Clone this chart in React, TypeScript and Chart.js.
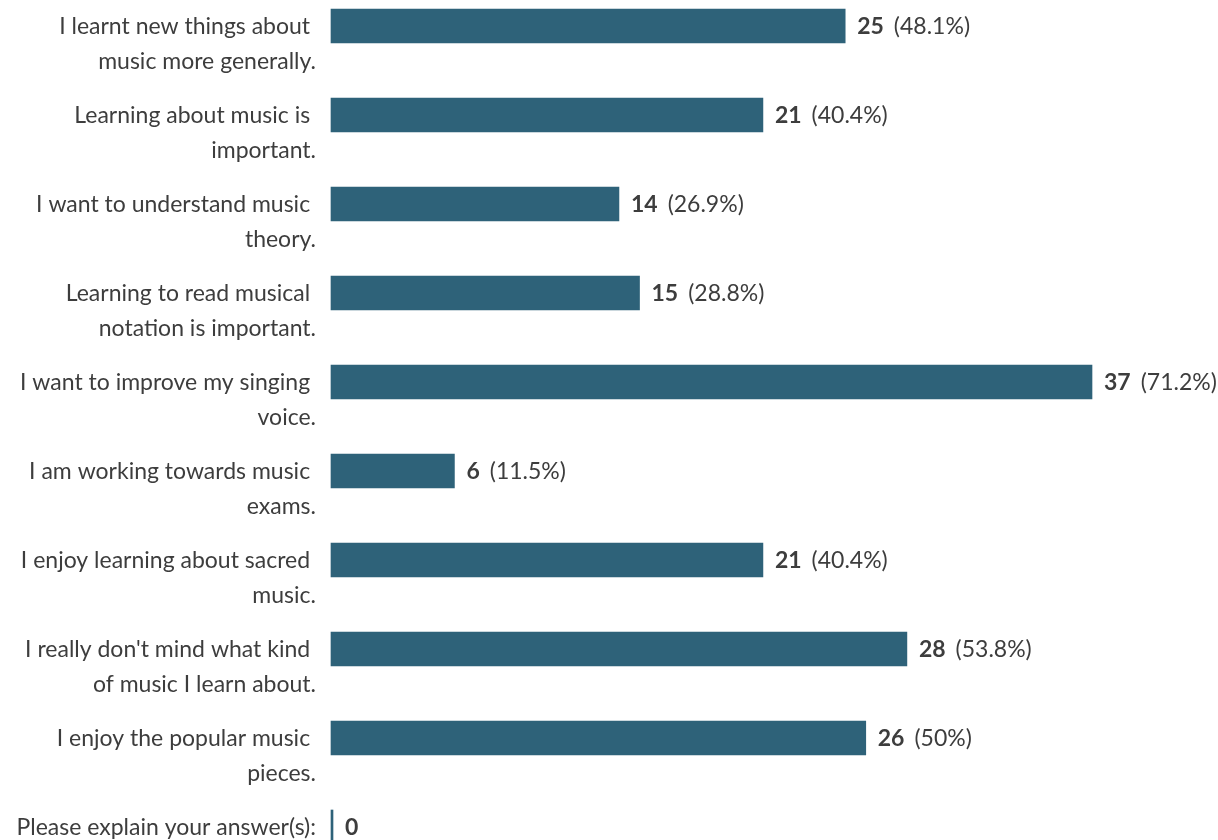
import React, { useEffect, useRef } from "react";
import { Chart, registerables } from "chart.js";

Chart.register(...registerables);

const categories: string[][] = [
  ["I learnt new things about ", "music more generally."],
  ["Learning about music is ", "important."],
  ["I want to understand music ", "theory."],
  ["Learning to read musical ", "notation is important."],
  ["I want to improve my singing ", "voice."],
  ["I am working towards music ", "exams."],
  ["I enjoy learning about sacred ", "music."],
  ["I really don't mind what kind ", "of music I learn about."],
  ["I enjoy the popular music ", "pieces."],
  ["Please explain your answer(s):"],
];
const counts: number[] = [25, 21, 14, 15, 37, 6, 21, 28, 26, 0];
const percents: (string | null)[] = ["48.1%", "40.4%", "26.9%", "28.8%", "71.2%", "11.5%", "40.4%", "53.8%", "50%", null];

const BAR_COLOR = "#2e6279";
const TEXT_COLOR = "#3d3d3d";
const FONT = "Lato";
const SIZE = 23;

const labelPlugin = {
  id: "customLabels",
  afterDatasetsDraw(chart: any) {
    const ctx = chart.ctx;
    const yScale = chart.scales.y;
    const meta = chart.getDatasetMeta(0);
    ctx.save();
    ctx.textBaseline = "middle";
    ctx.fillStyle = TEXT_COLOR;
    categories.forEach((lines, i) => {
      const y = yScale.getPixelForValue(i) + 1;
      ctx.font = `${SIZE}px ${FONT}`;
      ctx.textAlign = "right";
      lines.forEach((line, j) => {
        ctx.fillText(line, 316, y + j * 35);
      });
      const bar = meta.data[i];
      const x0 = bar.x + 12;
      ctx.textAlign = "left";
      ctx.font = `bold ${SIZE}px ${FONT}`;
      const cs = String(counts[i]);
      ctx.fillText(cs, x0, y);
      const w = ctx.measureText(cs).width;
      if (percents[i]) {
        ctx.font = `${SIZE}px ${FONT}`;
        ctx.fillText(`(${percents[i]})`, x0 + w + 10, y);
      }
    });
    ctx.restore();
  },
};

export default function App() {
  const ref = useRef<HTMLCanvasElement | null>(null);
  useEffect(() => {
    document.body.style.margin = "0";
    const chart = new Chart(ref.current as HTMLCanvasElement, {
      type: "bar",
      data: {
        labels: categories.map((c) => c.join("")),
        datasets: [
          {
            data: counts,
            backgroundColor: BAR_COLOR,
            barThickness: 34,
            minBarLength: 2,
            borderWidth: 0,
            clip: false as any,
          },
        ],
      },
      options: {
        indexAxis: "y",
        animation: false,
        responsive: false,
        layout: { padding: { top: 26, bottom: 13, left: 331, right: 126 } },
        scales: {
          x: { display: false, min: 0, max: 37 },
          y: { display: false, offset: false },
        },
        plugins: { legend: { display: false }, tooltip: { enabled: false } },
      },
      plugins: [labelPlugin],
    });
    return () => chart.destroy();
  }, []);
  return (
    <div style={{ width: 1218, height: 840 }}>
      <canvas ref={ref} width={1218} height={840} style={{ display: "block" }} />
    </div>
  );
}
